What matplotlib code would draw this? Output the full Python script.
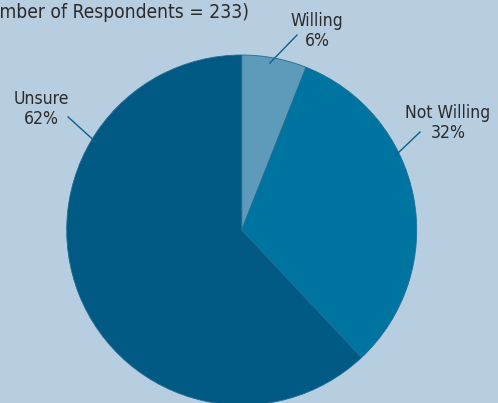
import matplotlib.pyplot as plt
import numpy as np

plt.rcParams['font.family'] = ['DejaVu Sans']
plt.rcParams['font.stretch'] = 'condensed'

labels = ['Willing', 'Not Willing', 'Unsure']
shares = [6, 32, 62]
colors = ['#5e9aba', '#0074a0', '#005a84']
title = '(Number of Respondents = 233)'

# leader lines: angle where the line touches the wedge, line start, text centre
anchor_angles = [80.4, 25.7, 149.0]
line_starts = [(0.316, 1.114), (1.019, 0.56), (-0.992, 0.646)]
text_pos = [(0.431, 1.137), (1.179, 0.611), (-1.147, 0.691)]

bg = '#b7cde0'
fig = plt.figure(figsize=(4.98, 4.03), dpi=100, facecolor=bg)

# square axes holding the pie, radius 175 px
cx, cy, r = 241.7, 230, 175
ax = fig.add_axes([(cx - r) / 498, (403 - cy - r) / 403, 2 * r / 498, 2 * r / 403])
ax.set_facecolor(bg)

ax.pie(shares, colors=colors, startangle=90, counterclock=False, radius=1,
       wedgeprops=dict(edgecolor='#1f6e98', linewidth=0.6))
ax.set_xlim(-1, 1)
ax.set_ylim(-1, 1)
ax.axis('off')

for lab, val, ang, start, pos in zip(labels, shares, anchor_angles, line_starts, text_pos):
    a = np.deg2rad(ang)
    end = (0.968 * np.cos(a), 0.968 * np.sin(a))
    ax.plot([start[0], end[0]], [start[1], end[1]], color='#0f5f8c', lw=1.0, clip_on=False)
    ax.text(pos[0], pos[1], f'{lab}\n{val}%', ha='center', va='center', fontsize=12.6,
            color='#2b2b2b', linespacing=1.17, clip_on=False)

# title runs off the left edge of the figure
fig.text(249 / 498, 1 - 18.5 / 403, title, ha='right', va='baseline', fontsize=13.8, color='#2b2b2b')

fig.savefig('out.png', dpi=100, facecolor=bg)
